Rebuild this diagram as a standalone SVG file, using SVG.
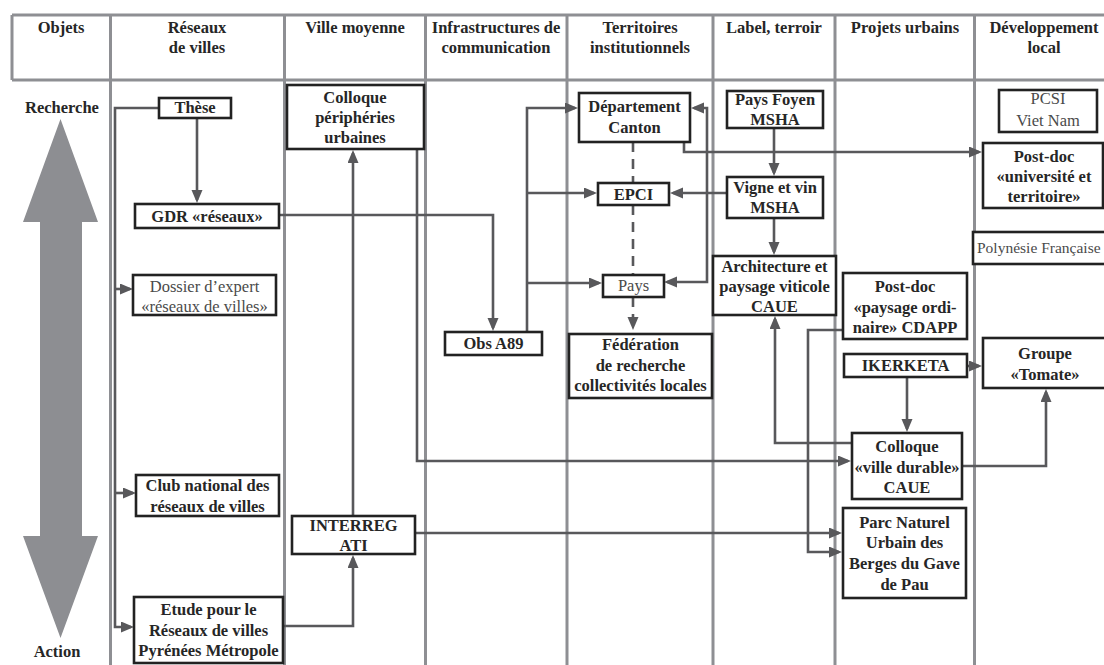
<svg xmlns="http://www.w3.org/2000/svg" width="1104" height="665" viewBox="0 0 1104 665">
<defs>
<style>
.grid{stroke:#8e8f93;stroke-width:3;fill:none}
.box{fill:#fff;stroke:#222;stroke-width:2.6}
.t{font-family:"Liberation Serif","Times New Roman",serif;font-size:16.5px;font-weight:bold;fill:#262626;text-anchor:middle}
.r{font-family:"Liberation Serif","Times New Roman",serif;font-size:16.5px;font-weight:normal;fill:#4a4a4a;text-anchor:middle}
.c{fill:none;stroke:#58585b;stroke-width:2.6}
.d{fill:none;stroke:#58585b;stroke-width:2.6;stroke-dasharray:10 7}
</style>
<marker id="ah" markerUnits="userSpaceOnUse" markerWidth="14" markerHeight="12" refX="10" refY="5.5" orient="auto-start-reverse">
<path d="M0,0 L13,5.5 L0,11 z" fill="#58585b"/>
</marker>
</defs>
<rect width="1104" height="665" fill="#fff"/>

<g id="grid">
<path class="grid" d="M12,15 H1104 M12,80 H1104 M12,15 V80"/>
<path class="grid" d="M110.5,15 V665 M284.5,15 V665 M425.5,15 V665 M567,15 V665 M713,15 V665 M835,15 V665 M974.5,15 V665"/>
</g>

<g id="headers">
<text class="t" x="61" y="33">Objets</text>
<text class="t" x="197" y="33">Réseaux</text>
<text class="t" x="197" y="53">de villes</text>
<text class="t" x="355" y="33">Ville moyenne</text>
<text class="t" x="496" y="33">Infrastructures de</text>
<text class="t" x="496" y="53">communication</text>
<text class="t" x="640" y="33">Territoires</text>
<text class="t" x="640" y="53">institutionnels</text>
<text class="t" x="774" y="33">Label, terroir</text>
<text class="t" x="905" y="33">Projets urbains</text>
<text class="t" x="1044" y="33">Développement</text>
<text class="t" x="1044" y="53">local</text>
</g>

<g id="axis">
<polygon points="60.5,119 98,222 82,222 82,536 98,536 60.5,638 23,536 40,536 40,222 23,222" fill="#8d8e92"/>
<text class="t" x="62" y="113">Recherche</text>
<text class="t" x="57" y="657">Action</text>
</g>

<g id="connectors">
<path class="c" d="M159,108 H115 V627 H131" marker-end="url(#ah)"/>
<path class="c" d="M115,289 H130" marker-end="url(#ah)"/>
<path class="c" d="M115,493 H133" marker-end="url(#ah)"/>
<path class="c" d="M197,118 V200" marker-end="url(#ah)"/>
<path class="c" d="M279,215 H493 V328" marker-end="url(#ah)"/>
<path class="c" d="M527,332 V108 H575" marker-end="url(#ah)"/>
<path class="c" d="M527,193 H594" marker-end="url(#ah)"/>
<path class="c" d="M527,283 H599" marker-end="url(#ah)"/>
<path class="c" d="M694,108 H707 V282 H667" marker-start="url(#ah)" marker-end="url(#ah)"/>
<path class="c" d="M684,142 V152 H979" marker-end="url(#ah)"/>
<path class="d" d="M633,142 V183"/>
<path class="d" d="M633,205 V275"/>
<path class="d" d="M633,297 V327" marker-end="url(#ah)"/>
<path class="c" d="M774,128 V173" marker-end="url(#ah)"/>
<path class="c" d="M727,193 H673" marker-end="url(#ah)"/>
<path class="c" d="M774,218 V252" marker-end="url(#ah)"/>
<path class="c" d="M417,149 V461 H848" marker-end="url(#ah)"/>
<path class="c" d="M353,516 V153" marker-end="url(#ah)"/>
<path class="c" d="M283,626 H353 V558" marker-end="url(#ah)"/>
<path class="c" d="M415,533 H839" marker-end="url(#ah)"/>
<path class="c" d="M843,330 H808 V552 H839" marker-end="url(#ah)"/>
<path class="c" d="M967,366 H979" marker-end="url(#ah)"/>
<path class="c" d="M907,377 V429" marker-end="url(#ah)"/>
<path class="c" d="M852,443 H775 V319" marker-end="url(#ah)"/>
<path class="c" d="M962,466 H1046 V392" marker-end="url(#ah)"/>
</g>

<g id="these"><rect class="box" x="159" y="98" width="72" height="20"/><text class="t" x="195" y="113">Thèse</text></g>
<g id="gdr"><rect class="box" x="135" y="204" width="144" height="24"/><text class="t" x="207" y="222">GDR «réseaux»</text></g>
<g id="dossier"><rect class="box" x="133" y="275" width="143" height="40"/><text class="r" x="204.5" y="292">Dossier d’expert</text><text class="r" x="204.5" y="312">«réseaux de villes»</text></g>
<g id="club"><rect class="box" x="136" y="475" width="143" height="41"/><text class="t" x="207.5" y="491">Club national des</text><text class="t" x="207.5" y="512">réseaux de villes</text></g>
<g id="etude"><rect class="box" x="134" y="597" width="149" height="66"/><text class="t" x="208.5" y="615">Etude pour le</text><text class="t" x="208.5" y="636">Réseaux de villes</text><text class="t" x="208.5" y="656">Pyrénées Métropole</text></g>
<g id="colloque-peri"><rect class="box" x="287" y="85" width="137" height="64"/><text class="t" x="355" y="103">Colloque</text><text class="t" x="355" y="123">périphéries</text><text class="t" x="355" y="143">urbaines</text></g>
<g id="interreg"><rect class="box" x="292" y="516" width="123" height="38"/><text class="t" x="353.5" y="531">INTERREG</text><text class="t" x="353.5" y="551">ATI</text></g>
<g id="obs"><rect class="box" x="445" y="332" width="97" height="23"/><text class="t" x="493.5" y="349">Obs A89</text></g>
<g id="departement"><rect class="box" x="579" y="93" width="111" height="49"/><text class="t" x="634.5" y="112">Département</text><text class="t" x="634.5" y="133">Canton</text></g>
<g id="epci"><rect class="box" x="598" y="183" width="71" height="22"/><text class="t" x="633.5" y="200">EPCI</text></g>
<g id="pays"><rect class="box" x="603" y="275" width="61" height="22"/><text class="r" x="633.5" y="291">Pays</text></g>
<g id="federation"><rect class="box" x="569" y="334" width="143" height="64"/><text class="t" x="640.5" y="350">Fédération</text><text class="t" x="640.5" y="371">de recherche</text><text class="t" x="640.5" y="391">collectivités locales</text></g>
<g id="pays-foyen"><rect class="box" x="727" y="91" width="96" height="37"/><text class="t" x="775" y="105">Pays Foyen</text><text class="t" x="775" y="125">MSHA</text></g>
<g id="vigne"><rect class="box" x="727" y="177" width="96" height="41"/><text class="t" x="775" y="193">Vigne et vin</text><text class="t" x="775" y="213">MSHA</text></g>
<g id="architecture"><rect class="box" x="713" y="256" width="123" height="59"/><text class="t" x="774.5" y="272">Architecture et</text><text class="t" x="774.5" y="292">paysage viticole</text><text class="t" x="774.5" y="312">CAUE</text></g>
<g id="postdoc-cdapp"><rect class="box" x="843" y="273" width="124" height="66"/><text class="t" x="905" y="292">Post-doc</text><text class="t" x="905" y="313">«paysage ordi-</text><text class="t" x="905" y="333">naire» CDAPP</text></g>
<g id="ikerketa"><rect class="box" x="844" y="354" width="123" height="23"/><text class="t" x="905.5" y="371">IKERKETA</text></g>
<g id="colloque-durable"><rect class="box" x="852" y="433" width="110" height="66"/><text class="t" x="907" y="452">Colloque</text><text class="t" x="907" y="473">«ville durable»</text><text class="t" x="907" y="493">CAUE</text></g>
<g id="parc"><rect class="box" x="843" y="508" width="123" height="90"/><text class="t" x="904.5" y="528">Parc Naturel</text><text class="t" x="904.5" y="548">Urbain des</text><text class="t" x="904.5" y="569">Berges du Gave</text><text class="t" x="904.5" y="590">de Pau</text></g>
<g id="pcsi"><rect class="box" x="999" y="90" width="98" height="42"/><text class="r" x="1048" y="104">PCSI</text><text class="r" x="1048" y="126">Viet Nam</text></g>
<g id="postdoc-univ"><rect class="box" x="983" y="143" width="120" height="65"/><text class="t" x="1044" y="162">Post-doc</text><text class="t" x="1044" y="182">«université et</text><text class="t" x="1044" y="202">territoire»</text></g>
<g id="polynesie"><rect class="box" x="973" y="232" width="135" height="32"/><text class="r" x="977" y="253" style="text-anchor:start;font-size:15.5px">Polynésie Française</text></g>
<g id="tomate"><rect class="box" x="983" y="338" width="125" height="50"/><text class="t" x="1045" y="359">Groupe</text><text class="t" x="1045" y="380">«Tomate»</text></g>
</svg>
